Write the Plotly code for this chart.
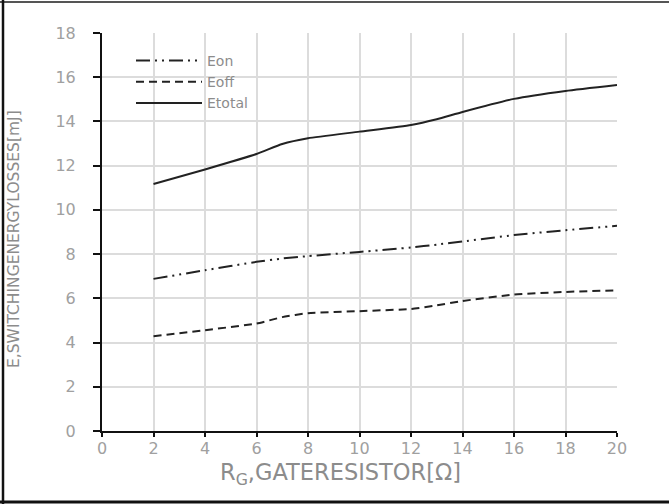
import plotly.graph_objects as go

rg = [2, 4, 6, 7, 8, 10, 12, 13, 14, 16, 18, 20]
eon = [6.88, 7.27, 7.65, 7.80, 7.91, 8.10, 8.30, 8.43, 8.57, 8.86, 9.08, 9.28]
eoff = [4.29, 4.56, 4.86, 5.15, 5.33, 5.42, 5.52, 5.68, 5.88, 6.17, 6.29, 6.36]
etotal = [11.17, 11.83, 12.53, 12.98, 13.24, 13.54, 13.84, 14.10, 14.43, 15.02, 15.38, 15.65]

x_ticks = [0, 2, 4, 6, 8, 10, 12, 14, 16, 18, 20]
y_ticks = [0, 2, 4, 6, 8, 10, 12, 14, 16, 18]

x_title = "R<sub>G</sub>,GATERESISTOR[Ω]"
y_title = "E,SWITCHINGENERGYLOSSES[mJ]"

LINE = "#222222"
TXT = "#8c8c8c"
FONT = "DejaVu Sans"

fig = go.Figure()
fig.add_trace(go.Scatter(x=rg, y=eon, mode="lines", name="Eon",
                         line=dict(color=LINE, width=2, dash="14px,5px,2px,5px,2px,5px",
                                   shape="spline", smoothing=0.5)))
fig.add_trace(go.Scatter(x=rg, y=eoff, mode="lines", name="Eoff",
                         line=dict(color=LINE, width=2, dash="8px,5px",
                                   shape="spline", smoothing=0.5)))
fig.add_trace(go.Scatter(x=rg, y=etotal, mode="lines", name="Etotal",
                         line=dict(color=LINE, width=2, shape="spline", smoothing=0.5)))

L, R, T, B = 102, 52, 33, 73
W, H = 669, 504
pw, ph = W - L - R, H - T - B

def px_x(p):
    return (p - L) / pw

def px_y(p):
    return (H - B - p) / ph

fig.update_layout(
    width=W, height=H,
    margin=dict(l=L, r=R, t=T, b=B, pad=0),
    paper_bgcolor="white", plot_bgcolor="white",
    font=dict(family=FONT, color=TXT),
    showlegend=True,
    legend=dict(x=px_x(131), y=px_y(45), xanchor="left", yanchor="top",
                bgcolor="rgba(0,0,0,0)", font=dict(size=14, color=TXT, family=FONT),
                itemwidth=66, tracegroupgap=0),
    xaxis=dict(range=[0, 20], tickvals=x_ticks, ticktext=[str(v) for v in x_ticks],
               showgrid=True, gridcolor="#dcdcdc", gridwidth=1.5,
               showline=True, linecolor="#111111", linewidth=2,
               ticks="outside", ticklen=4, tickwidth=2, tickcolor="#111111",
               tickfont=dict(size=16, color="#a0a0a0", family=FONT),
               ticklabelstandoff=-2,
               zeroline=False),
    yaxis=dict(range=[0, 18], tickvals=y_ticks, ticktext=[str(v) for v in y_ticks],
               showgrid=True, gridcolor="#dcdcdc", gridwidth=1.5,
               showline=True, linecolor="#111111", linewidth=2,
               ticks="outside", ticklen=7, tickwidth=2, tickcolor="#111111",
               tickfont=dict(size=16, color="#a0a0a0", family=FONT),
               ticklabelstandoff=14,
               zeroline=False),
    annotations=[
        dict(text=x_title, xref="paper", yref="paper", x=px_x(340), y=px_y(474),
             xanchor="center", yanchor="middle", showarrow=False,
             font=dict(size=22.5, color=TXT, family=FONT)),
        dict(text=y_title, xref="paper", yref="paper", x=px_x(14), y=px_y(239),
             xanchor="center", yanchor="middle", showarrow=False, textangle=-90,
             font=dict(size=15.5, color=TXT, family=FONT)),
    ],
    shapes=[
        dict(type="line", xref="paper", yref="paper", x0=px_x(0), x1=px_x(W), y0=px_y(2), y1=px_y(2),
             line=dict(color="#555555", width=2)),
        dict(type="line", xref="paper", yref="paper", x0=px_x(3), x1=px_x(3), y0=px_y(0), y1=px_y(H),
             line=dict(color="#111111", width=2.5)),
        dict(type="line", xref="paper", yref="paper", x0=px_x(0), x1=px_x(W), y0=px_y(502), y1=px_y(502),
             line=dict(color="#111111", width=3)),
    ],
)

fig.write_html("out.html")
